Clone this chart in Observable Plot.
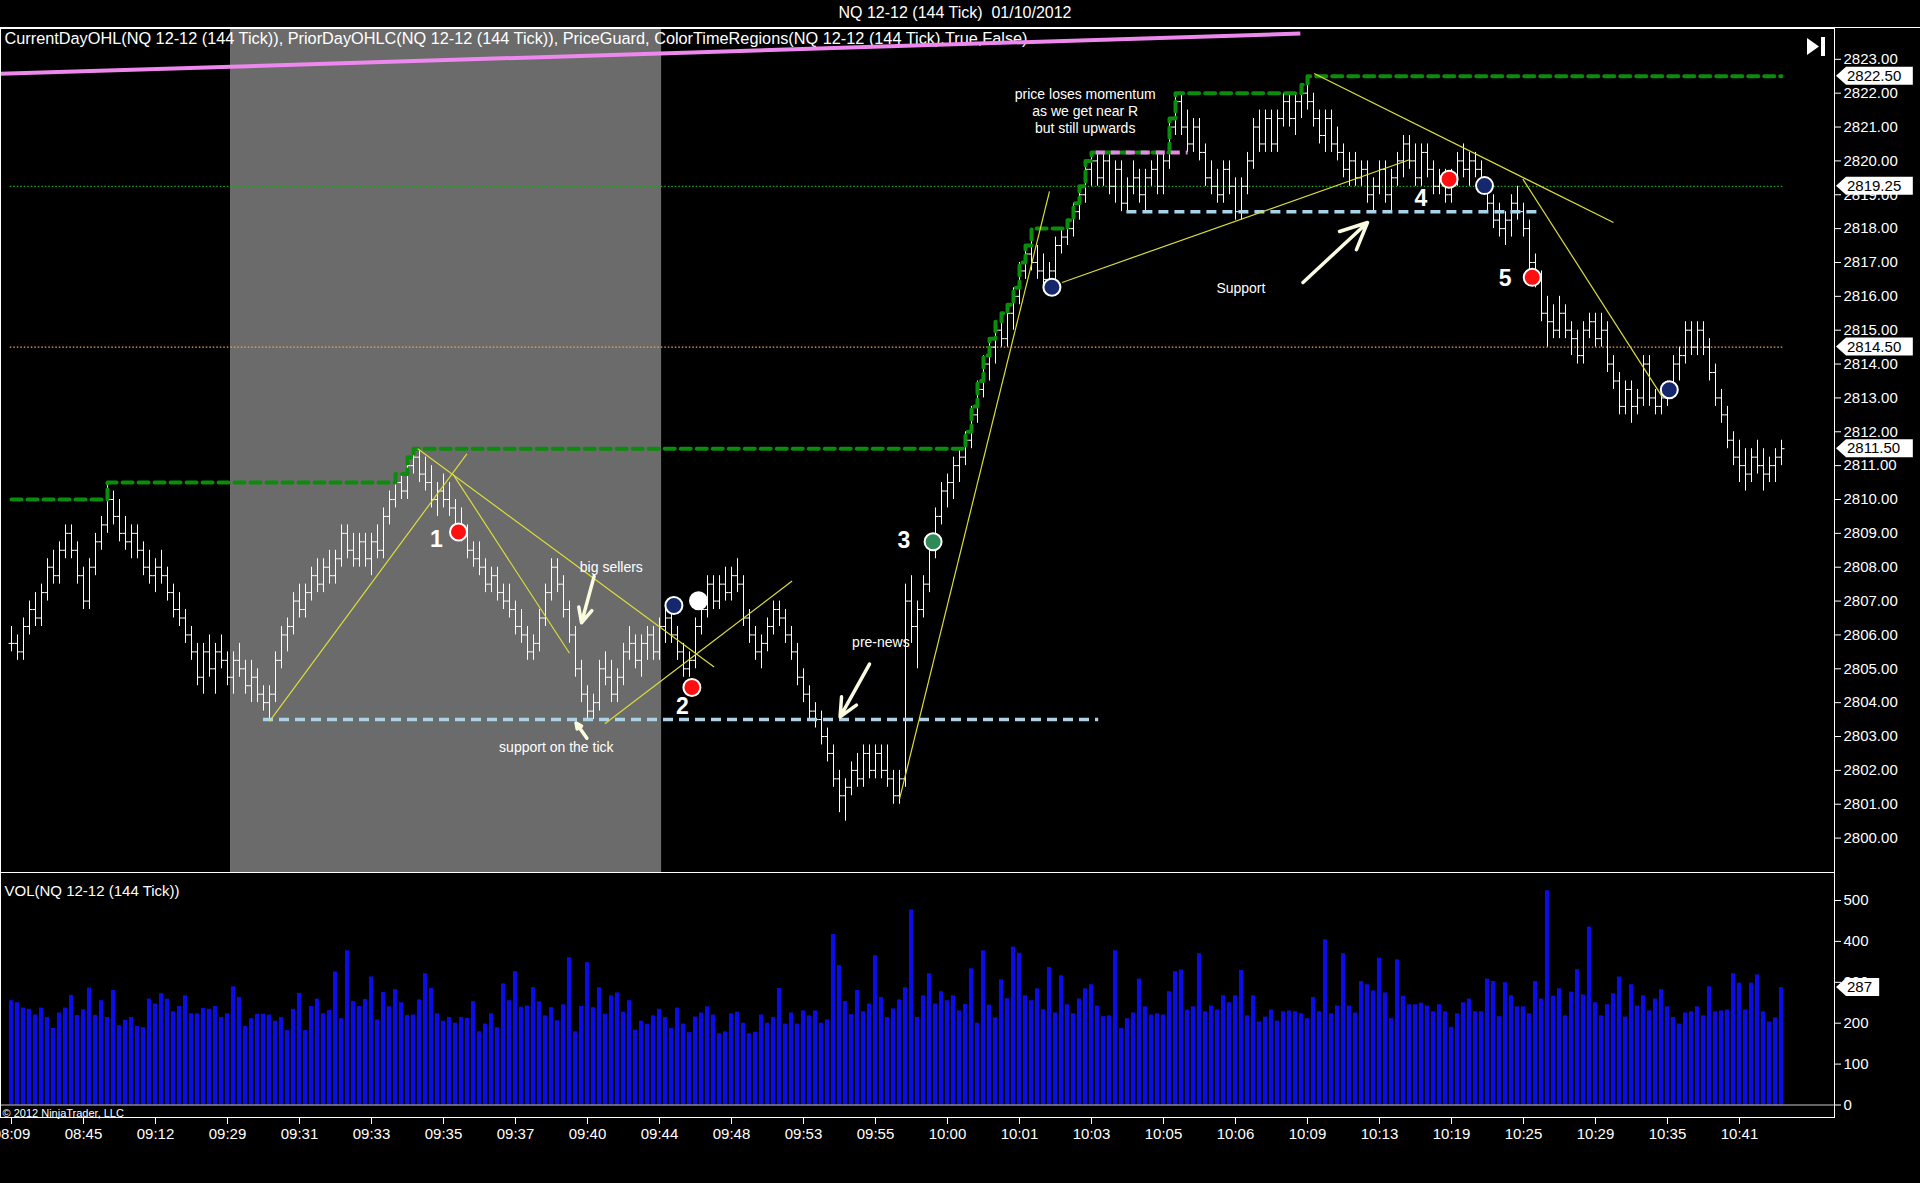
<!DOCTYPE html>
<html><head><meta charset="utf-8">
<script src="https://cdn.jsdelivr.net/npm/d3@7"></script>
<script src="https://cdn.jsdelivr.net/npm/@observablehq/plot@0.6"></script>
<style>
html,body{margin:0;padding:0;background:#000;}
#wrap{position:relative;width:1920px;height:1183px;background:#000;overflow:hidden;font-family:"Liberation Sans",Arial,sans-serif;color:#fff;}
.abs{position:absolute;}
#wrap svg{display:block;}
</style></head><body><div id="wrap"></div>
<script>
// ---------------- DATA (NQ 12-12, 144-tick bars, 01/10/2012) ----------------
const open = [
2805.75,2805.75,2805.50,2806.25,2806.75,2806.50,2807.25,2808.00,2807.75,2808.50,
2809.00,2808.50,2807.75,2807.00,2808.00,2808.75,2809.25,2810.00,2809.50,2809.00,
2808.75,2809.00,2808.50,2808.00,2807.75,2808.00,2807.75,2807.25,2806.75,2806.50,
2806.00,2805.50,2804.75,2805.50,2805.00,2805.50,2805.25,2804.75,2805.25,2805.00,
2804.50,2804.75,2804.25,2804.00,2804.25,2805.25,2806.00,2806.25,2807.00,2806.75,
2807.25,2807.75,2807.50,2808.00,2807.75,2808.25,2809.00,2808.50,2808.25,2808.75,
2808.25,2808.75,2808.50,2809.50,2810.00,2810.50,2810.25,2811.00,2811.25,2810.75,
2810.50,2810.00,2810.25,2810.00,2809.75,2809.25,2809.00,2808.50,2808.25,2808.00,
2807.50,2807.75,2807.25,2807.00,2806.75,2806.25,2806.00,2805.50,2805.75,2806.50,
2807.25,2808.00,2807.50,2806.75,2806.00,2805.00,2804.25,2803.75,2804.00,2805.00,
2804.75,2804.25,2804.75,2805.50,2805.75,2805.25,2805.75,2806.00,2805.50,2806.25,
2806.50,2806.00,2805.50,2805.00,2805.25,2806.25,2806.75,2807.50,2807.00,2807.50,
2807.25,2807.75,2807.50,2806.50,2806.00,2805.50,2805.75,2806.25,2806.75,2806.50,
2806.00,2805.50,2804.75,2804.25,2803.75,2803.50,2803.00,2802.50,2801.75,2801.25,
2801.50,2802.00,2801.75,2802.50,2802.00,2802.50,2802.00,2801.75,2801.25,2801.75,
2807.00,2806.25,2806.75,2807.50,2808.50,2809.50,2810.25,2810.50,2811.00,2811.25,
2811.75,2812.50,2813.25,2814.00,2814.50,2815.00,2814.75,2815.50,2816.00,2816.75,
2817.25,2817.00,2816.75,2816.50,2816.75,2817.50,2817.75,2818.00,2818.50,2819.00,
2819.75,2820.00,2819.50,2820.00,2819.25,2819.75,2818.75,2819.25,2819.50,2819.00,
2819.50,2819.75,2819.25,2820.00,2821.00,2821.75,2821.00,2820.50,2821.00,2820.25,
2819.50,2819.25,2819.00,2819.75,2819.25,2818.50,2819.25,2820.00,2821.00,2820.50,
2821.25,2820.50,2821.25,2821.75,2821.25,2821.75,2822.00,2821.75,2821.25,2820.75,
2821.25,2820.50,2820.25,2819.75,2820.00,2819.50,2819.75,2819.00,2819.25,2819.75,
2819.00,2819.50,2820.00,2820.50,2820.00,2819.50,2820.25,2819.75,2819.25,2819.50,
2819.00,2819.50,2820.00,2819.75,2820.00,2819.75,2819.25,2818.75,2818.25,2818.00,
2818.25,2818.75,2818.50,2818.00,2817.00,2816.50,2815.50,2815.25,2815.00,2815.50,
2815.00,2814.75,2814.25,2815.00,2815.25,2814.75,2815.00,2814.00,2813.50,2812.75,
2813.25,2812.75,2813.00,2814.00,2813.00,2812.75,2813.00,2813.25,2814.00,2814.25,
2815.00,2814.50,2815.00,2814.50,2813.75,2813.00,2812.50,2811.75,2811.25,2811.00,
2810.75,2811.25,2811.00,2810.75,2811.00,2811.25];
const high = [
2806.25,2806.00,2806.50,2807.00,2807.25,2807.50,2808.25,2808.50,2808.75,2809.25,
2809.25,2808.75,2808.00,2808.25,2809.00,2809.50,2810.50,2810.25,2810.00,2809.50,
2809.25,2809.25,2808.75,2808.50,2808.25,2808.50,2808.00,2807.50,2807.25,2806.75,
2806.25,2805.75,2805.75,2806.00,2805.75,2806.00,2805.50,2805.50,2805.75,2805.25,
2805.25,2805.00,2804.50,2804.50,2805.50,2806.25,2806.50,2807.25,2807.50,2807.50,
2808.00,2808.25,2808.25,2808.50,2808.50,2809.25,2809.25,2809.00,2809.00,2809.00,
2809.00,2809.25,2809.75,2810.25,2810.75,2810.75,2811.25,2811.50,2811.50,2811.25,
2811.00,2810.50,2810.75,2810.50,2810.00,2809.75,2809.25,2808.75,2808.75,2808.25,
2808.00,2808.00,2807.50,2807.50,2807.00,2806.75,2806.25,2806.00,2806.75,2807.50,
2808.25,2808.25,2807.75,2807.00,2806.25,2805.25,2804.50,2804.25,2805.25,2805.50,
2805.25,2805.00,2805.75,2806.25,2806.00,2806.00,2806.25,2806.25,2806.50,2806.75,
2806.75,2806.25,2805.75,2805.50,2806.50,2807.00,2807.75,2807.75,2807.75,2808.00,
2808.00,2808.25,2807.75,2806.75,2806.25,2806.00,2806.50,2807.00,2807.00,2806.75,
2806.25,2805.75,2805.00,2804.50,2804.00,2803.75,2803.25,2802.75,2802.00,2801.75,
2802.25,2802.50,2802.75,2802.75,2802.75,2802.75,2802.75,2802.00,2802.00,2807.50,
2807.75,2807.00,2807.75,2808.75,2809.75,2810.50,2810.75,2811.25,2811.50,2812.00,
2812.75,2813.50,2814.25,2814.75,2815.25,2815.50,2815.75,2816.25,2817.00,2817.50,
2818.00,2817.50,2817.25,2817.00,2817.75,2818.00,2818.25,2818.75,2819.25,2820.00,
2820.25,2820.25,2820.25,2820.25,2820.00,2820.00,2819.50,2820.00,2819.75,2819.75,
2820.00,2820.25,2820.25,2821.25,2822.00,2822.00,2821.50,2821.25,2821.25,2820.50,
2820.00,2819.75,2820.00,2820.00,2819.50,2819.50,2820.25,2821.25,2821.50,2821.50,
2821.50,2821.50,2822.00,2822.00,2822.00,2822.25,2822.50,2822.00,2821.50,2821.50,
2821.50,2821.00,2820.50,2820.25,2820.25,2820.00,2820.00,2819.50,2820.00,2820.00,
2819.75,2820.25,2820.75,2820.75,2820.50,2820.50,2820.50,2820.00,2819.75,2819.75,
2819.75,2820.25,2820.50,2820.25,2820.25,2820.00,2819.50,2819.00,2818.75,2818.50,
2819.00,2819.25,2818.75,2818.25,2817.25,2816.75,2816.00,2815.75,2816.00,2815.75,
2815.25,2815.00,2815.25,2815.50,2815.50,2815.50,2815.25,2814.25,2813.75,2813.50,
2813.50,2813.25,2814.25,2814.25,2813.25,2813.25,2813.50,2814.25,2814.50,2815.25,
2815.25,2815.25,2815.25,2814.75,2814.00,2813.25,2812.75,2812.00,2811.75,2811.50,
2811.50,2811.75,2811.50,2811.25,2811.50,2811.75];
const low = [
2805.50,2805.25,2805.25,2806.00,2806.25,2806.25,2807.00,2807.50,2807.50,2808.25,
2808.25,2807.50,2806.75,2806.75,2807.75,2808.50,2809.00,2809.25,2808.75,2808.50,
2808.25,2808.25,2807.75,2807.50,2807.25,2807.50,2807.00,2806.50,2806.25,2805.75,
2805.25,2804.50,2804.25,2804.75,2804.25,2805.00,2804.50,2804.25,2804.75,2804.25,
2804.00,2804.00,2803.75,2803.50,2804.00,2805.00,2805.50,2806.00,2806.50,2806.50,
2807.00,2807.25,2807.25,2807.50,2807.50,2808.00,2808.25,2808.00,2808.00,2808.00,
2807.75,2808.25,2808.25,2809.25,2809.75,2810.00,2810.00,2810.75,2810.50,2810.25,
2809.75,2809.50,2809.75,2809.50,2809.00,2808.75,2808.25,2808.00,2807.75,2807.25,
2807.25,2807.00,2806.75,2806.50,2806.00,2805.75,2805.25,2805.25,2805.50,2806.25,
2807.00,2807.25,2806.50,2805.75,2804.75,2804.00,2803.50,2803.50,2803.75,2804.50,
2804.00,2804.00,2804.50,2805.25,2805.00,2804.75,2805.25,2805.25,2805.25,2805.75,
2805.75,2805.25,2804.75,2804.75,2805.00,2806.00,2806.50,2806.75,2806.75,2807.00,
2807.00,2807.25,2806.25,2805.75,2805.25,2805.00,2805.50,2806.00,2806.25,2805.75,
2805.25,2804.50,2804.00,2803.50,2803.25,2802.75,2802.25,2801.50,2800.75,2800.50,
2801.25,2801.50,2801.50,2801.75,2801.75,2801.75,2801.50,2801.00,2801.00,2801.50,
2805.75,2805.00,2806.50,2807.25,2808.25,2809.25,2809.75,2810.00,2810.50,2811.00,
2811.50,2812.25,2813.00,2813.50,2814.00,2814.50,2814.50,2815.00,2815.75,2816.50,
2816.75,2816.50,2816.25,2816.25,2816.50,2817.25,2817.50,2817.75,2818.25,2818.75,
2819.25,2819.25,2819.25,2819.00,2818.75,2818.50,2818.50,2819.00,2818.75,2818.50,
2819.25,2819.00,2819.00,2819.75,2820.75,2820.75,2820.25,2820.25,2820.00,2819.25,
2819.00,2818.75,2818.75,2819.00,2818.25,2818.25,2819.00,2819.75,2820.25,2820.25,
2820.25,2820.25,2821.00,2821.00,2820.75,2821.25,2821.50,2821.00,2820.50,2820.25,
2820.25,2820.00,2819.50,2819.25,2819.25,2819.25,2818.75,2818.50,2819.00,2818.75,
2818.50,2819.25,2819.50,2819.75,2819.25,2819.25,2819.50,2819.00,2819.00,2818.75,
2818.75,2819.25,2819.50,2819.25,2819.50,2819.00,2818.50,2818.00,2817.75,2817.50,
2817.75,2818.25,2817.75,2816.75,2816.25,2815.25,2814.50,2814.75,2814.75,2814.75,
2814.25,2814.00,2814.00,2814.75,2814.50,2814.50,2813.75,2813.25,2812.50,2812.50,
2812.25,2812.50,2812.75,2812.75,2812.50,2812.50,2812.75,2813.00,2813.50,2814.00,
2814.25,2814.25,2814.25,2813.50,2812.75,2812.25,2811.50,2811.00,2810.50,2810.25,
2810.50,2810.75,2810.25,2810.50,2810.50,2811.00];
const close = [
2805.75,2805.50,2806.25,2806.75,2806.50,2807.25,2808.00,2807.75,2808.50,2809.00,
2808.50,2807.75,2807.00,2808.00,2808.75,2809.25,2810.00,2809.50,2809.00,2808.75,
2809.00,2808.50,2808.00,2807.75,2808.00,2807.75,2807.25,2806.75,2806.50,2806.00,
2805.50,2804.75,2805.50,2805.00,2805.50,2805.25,2804.75,2805.25,2805.00,2804.50,
2804.75,2804.25,2804.00,2804.25,2805.25,2806.00,2806.25,2807.00,2806.75,2807.25,
2807.75,2807.50,2808.00,2807.75,2808.25,2809.00,2808.50,2808.25,2808.75,2808.25,
2808.75,2808.50,2809.50,2810.00,2810.50,2810.25,2811.00,2811.25,2810.75,2810.50,
2810.00,2810.25,2810.00,2809.75,2809.25,2809.00,2808.50,2808.25,2808.00,2807.50,
2807.75,2807.25,2807.00,2806.75,2806.25,2806.00,2805.50,2805.75,2806.50,2807.25,
2808.00,2807.50,2806.75,2806.00,2805.00,2804.25,2803.75,2804.00,2805.00,2804.75,
2804.25,2804.75,2805.50,2805.75,2805.25,2805.75,2806.00,2805.50,2806.25,2806.50,
2806.00,2805.50,2805.00,2805.25,2806.25,2806.75,2807.50,2807.00,2807.50,2807.25,
2807.75,2807.50,2806.50,2806.00,2805.50,2805.75,2806.25,2806.75,2806.50,2806.00,
2805.50,2804.75,2804.25,2803.75,2803.50,2803.00,2802.50,2801.75,2801.25,2801.50,
2802.00,2801.75,2802.50,2802.00,2802.50,2802.00,2801.75,2801.25,2801.75,2807.00,
2806.25,2806.75,2807.50,2808.50,2809.50,2810.25,2810.50,2811.00,2811.25,2811.75,
2812.50,2813.25,2814.00,2814.50,2815.00,2814.75,2815.50,2816.00,2816.75,2817.25,
2817.00,2816.75,2816.50,2816.75,2817.50,2817.75,2818.00,2818.50,2819.00,2819.75,
2820.00,2819.50,2820.00,2819.25,2819.75,2818.75,2819.25,2819.50,2819.00,2819.50,
2819.75,2819.25,2820.00,2821.00,2821.75,2821.00,2820.50,2821.00,2820.25,2819.50,
2819.25,2819.00,2819.75,2819.25,2818.50,2819.25,2820.00,2821.00,2820.50,2821.25,
2820.50,2821.25,2821.75,2821.25,2821.75,2822.00,2821.75,2821.25,2820.75,2821.25,
2820.50,2820.25,2819.75,2820.00,2819.50,2819.75,2819.00,2819.25,2819.75,2819.00,
2819.50,2820.00,2820.50,2820.00,2819.50,2820.25,2819.75,2819.25,2819.50,2819.00,
2819.50,2820.00,2819.75,2820.00,2819.75,2819.25,2818.75,2818.25,2818.00,2818.25,
2818.75,2818.50,2818.00,2817.00,2816.50,2815.50,2815.25,2815.00,2815.50,2815.00,
2814.75,2814.25,2815.00,2815.25,2814.75,2815.00,2814.00,2813.50,2812.75,2813.25,
2812.75,2813.00,2814.00,2813.00,2812.75,2813.00,2813.25,2814.00,2814.25,2815.00,
2814.50,2815.00,2814.50,2813.75,2813.00,2812.50,2811.75,2811.25,2811.00,2810.75,
2811.25,2811.00,2810.75,2811.00,2811.25,2811.50];
const volume = [
255,250,237,234,220,237,214,187,225,237,268,219,233,286,219,255,214,280,194,207,
214,192,189,259,247,272,259,228,241,267,223,223,236,234,241,214,223,289,263,192,
211,222,222,220,205,214,182,234,273,182,241,259,223,231,325,211,377,253,241,258,
313,208,275,240,282,250,219,220,257,321,285,223,205,214,200,214,212,253,179,
198,223,189,296,255,326,239,242,287,252,218,238,206,245,360,179,241,348,238,287,
222,267,274,227,255,183,205,197,218,234,214,187,237,198,177,215,225,240,220,174,
179,223,227,200,174,178,220,200,214,285,198,225,198,230,218,230,200,208,417,341,
253,221,280,228,247,365,263,214,235,257,287,477,214,267,321,247,277,255,
267,230,246,333,200,377,244,213,306,260,386,371,267,255,284,233,336,225,316,245,
223,259,284,294,242,216,218,377,187,211,225,308,240,220,223,220,277,326,330,232,
240,370,228,242,232,267,250,267,329,218,267,203,215,232,205,228,230,228,223,211,
263,228,404,223,242,370,242,225,302,294,279,359,274,211,355,266,245,
245,249,242,228,245,228,190,223,250,259,228,228,308,302,216,299,267,240,240,223,
302,259,524,266,284,218,276,331,269,435,250,218,245,272,313,215,294,242,267,230,
259,282,240,214,198,225,228,240,218,289,228,230,232,321,298,232,298,318,228,203,
213,287];
const timeLabels = ["08:09","08:45","09:12","09:29","09:31","09:33","09:35","09:37","09:40","09:44","09:48","09:53","09:55","10:00","10:01","10:03","10:05","10:06","10:09","10:13","10:19","10:25","10:29","10:35","10:41"];
const barsPerTimeLabel = 12;
const priceTicks = d3.range(2800, 2824);
const volumeTicks = [0, 100, 200, 300, 400, 500];
const sessionHighStart = 2810.00;            // CurrentDayOHL high carried in
const priceFlags = [2822.50, 2819.25, 2814.50, 2811.50];
const volumeFlags = [287];
// annotation data (bar index, price)
const shadeRegions = [{from: 36.5, to: 108.35}];
const levelLines = [{price: 2819.25, color: "#17a817", from: -0.2, to: 295.5}, {price: 2814.50, color: "#f2a55a", from: -0.2, to: 295.5}];
const supportLines = [{price: 2803.50, from: 42.0, to: 181.2}, {price: 2818.50, from: 185.9, to: 254.9}];
const resistanceDash = [{price: 2820.25, from: 180.8, to: 196.1}];
const priceGuard = [{i1: -1.85, p1: 2822.57, i2: 214.8, p2: 2823.76}];
const trendLines = [
  {i1: 43.0, p1: 2803.45, i2: 75.9, p2: 2811.35},
  {i1: 73.6, p1: 2810.74, i2: 93.0, p2: 2805.46},
  {i1: 67.7, p1: 2811.50, i2: 117.1, p2: 2805.05},
  {i1: 98.9, p1: 2803.38, i2: 130.1, p2: 2807.59},
  {i1: 148.0, p1: 2801.15, i2: 173.0, p2: 2819.10},
  {i1: 175.1, p1: 2816.41, i2: 233.1, p2: 2820.04},
  {i1: 217.1, p1: 2822.58, i2: 267.0, p2: 2818.18},
  {i1: 251.9, p1: 2819.46, i2: 275.1, p2: 2813.04}];
const arrows = [
  {i1: 97.1, p1: 2807.73, i2: 95.0, p2: 2806.36},
  {i1: 95.9, p1: 2802.95, i2: 94.1, p2: 2803.40},
  {i1: 143.0, p1: 2805.14, i2: 138.1, p2: 2803.58},
  {i1: 215.25, p1: 2816.41, i2: 226.0, p2: 2818.18}];
const signals = [
  {i: 74.5, p: 2809.04, color: "#ff1010"},
  {i: 110.4, p: 2806.87, color: "#15286c"},
  {i: 114.5, p: 2807.01, color: "#ffffff"},
  {i: 113.4, p: 2804.45, color: "#ff1010"},
  {i: 153.6, p: 2808.75, color: "#2e8b57"},
  {i: 173.4, p: 2816.27, color: "#15286c"},
  {i: 239.6, p: 2819.46, color: "#ff1010"},
  {i: 245.5, p: 2819.27, color: "#15286c"},
  {i: 253.45, p: 2816.56, color: "#ff1010"},
  {i: 276.3, p: 2813.24, color: "#15286c"}];
const tradeNumbers = [
  {i: 70.8, p: 2808.82, label: "1"}, {i: 111.8, p: 2803.87, label: "2"},
  {i: 148.75, p: 2808.79, label: "3"}, {i: 234.9, p: 2818.88, label: "4"},
  {i: 248.95, p: 2816.53, label: "5"}];
const notes = [
  {i: 99.97, p: 2808.03, label: "big sellers"},
  {i: 90.8, p: 2802.71, label: "support on the tick"},
  {i: 144.9, p: 2805.79, label: "pre-news"},
  {i: 178.95, p: 2821.48, label: "price loses momentum\nas we get near R\nbut still upwards"},
  {i: 204.9, p: 2816.27, label: "Support"}];
const titleText = "NQ 12-12 (144 Tick)  01/10/2012";
const indicatorText = "CurrentDayOHL(NQ 12-12 (144 Tick)), PriorDayOHLC(NQ 12-12 (144 Tick)), PriceGuard, ColorTimeRegions(NQ 12-12 (144 Tick),True,False)";
const volumeTitle = "VOL(NQ 12-12 (144 Tick))";

// ---------------- LAYOUT ----------------
const W = 1920, AXIS_X = 1834, PX_PER_BAR = 6, FIRST_BAR_X = 11;
const xDomain = [-FIRST_BAR_X / PX_PER_BAR, (AXIS_X - FIRST_BAR_X) / PX_PER_BAR];
const priceTop = 28, priceH = 844;
const priceDomain = [2798.984, 2823.91];
const volTop = 872, volH = 311, volMarginBottom = 66;
const volDomain = [-30.56, 568.46];
const FONT = "Liberation Sans, Arial, sans-serif";

const bars = d3.range(close.length).map(i => ({i, o: open[i], h: high[i], l: low[i], c: close[i], v: volume[i]}));
const sessionHigh = [];
{ let m = sessionHighStart; for (const b of bars) { m = Math.max(m, b.h); sessionHigh.push({i: b.i, p: m}); } }

const wrap = document.getElementById("wrap");
function addDiv(css, text) { const d = document.createElement("div"); d.className = "abs"; d.style.cssText = css; if (text) d.textContent = text; wrap.appendChild(d); return d; }

addDiv(`left:0;top:4px;width:1910px;text-align:center;font-size:16px;line-height:18px;white-space:pre;`, titleText);
addDiv(`left:0;top:27px;width:1920px;height:1px;background:#fff;`);

const pricePlot = Plot.plot({
  width: W, height: priceH, marginTop: 0, marginBottom: 0, marginLeft: 0, marginRight: W - AXIS_X,
  style: {background: "transparent", color: "#fff", fontFamily: FONT, fontSize: "15px", overflow: "visible"},
  x: {domain: xDomain, axis: null},
  y: {domain: priceDomain, axis: null},
  marks: [
    Plot.rect(shadeRegions, {x1: "from", x2: "to", fill: "#6b6b6b"}),
    Plot.text([indicatorText], {frameAnchor: "top-left", dx: 4, dy: 4, text: d => d, fill: "#fff", fontSize: 16.3, textAnchor: "start"}),
    Plot.link(priceGuard, {x1: "i1", y1: "p1", x2: "i2", y2: "p2", stroke: "#ee88ee", strokeWidth: 4}),
    Plot.ruleY(levelLines, {y: "price", x1: "from", x2: "to", stroke: "color", strokeWidth: 1.3, strokeDasharray: "1.5,2"}),
    Plot.ruleX(bars, {x: "i", y1: "l", y2: "h", stroke: "#fff", strokeWidth: 1}),
    Plot.link(bars, {x1: d => d.i - 0.5, x2: "i", y1: "o", y2: "o", stroke: "#fff", strokeWidth: 1}),
    Plot.link(bars, {x1: "i", x2: d => d.i + 0.5, y1: "c", y2: "c", stroke: "#fff", strokeWidth: 1}),
    Plot.line(sessionHigh, {x: "i", y: "p", curve: "step-after", stroke: "#0c8c0c", strokeWidth: 4, strokeDasharray: "10,6"}),
    Plot.ruleY(supportLines, {y: "price", x1: "from", x2: "to", stroke: "#a8d4e8", strokeWidth: 3.5, strokeDasharray: "10,6"}),
    Plot.ruleY(resistanceDash, {y: "price", x1: "from", x2: "to", stroke: "#e889e8", strokeWidth: 4, strokeDasharray: "9,6"}),
    Plot.link(trendLines, {x1: "i1", y1: "p1", x2: "i2", y2: "p2", stroke: "#dcdc3c", strokeWidth: 1.2}),
    Plot.arrow(arrows, {x1: "i1", y1: "p1", x2: "i2", y2: "p2", stroke: "#fbfbe0", strokeWidth: 3.5, headLength: 13, headAngle: 50}),
    Plot.dot(signals, {x: "i", y: "p", r: 8.5, fill: "color", stroke: "#fff", strokeWidth: 2}),
    Plot.text(tradeNumbers, {x: "i", y: "p", text: "label", fill: "#fff", fontSize: 23, fontWeight: "bold"}),
    Plot.text(notes, {x: "i", y: "p", text: "label", fill: "#fff", fontSize: 14, lineHeight: 1.2}),
    Plot.axisY(priceTicks, {anchor: "right", tickSize: 6, tickPadding: 3, tickFormat: d => d.toFixed(2), fontSize: 15, fill: "#fff", stroke: "#fff"}),
    Plot.frame({stroke: "#fff"})
  ]
});
pricePlot.style.position = "absolute"; pricePlot.style.left = "0px"; pricePlot.style.top = priceTop + "px";
wrap.appendChild(pricePlot);

const volPlot = Plot.plot({
  width: W, height: volH, marginTop: 0, marginBottom: volMarginBottom, marginLeft: 0, marginRight: W - AXIS_X,
  style: {background: "transparent", color: "#fff", fontFamily: FONT, fontSize: "15px", overflow: "visible"},
  x: {domain: xDomain},
  y: {domain: volDomain},
  marks: [
    Plot.rect(bars, {x1: d => d.i - 0.34, x2: d => d.i + 0.34, y1: 0, y2: "v", fill: "#0c0ce6"}),
    Plot.ruleY([0], {stroke: "#c8c8c8"}),
    Plot.text([volumeTitle], {frameAnchor: "top-left", dx: 4, dy: 13, text: d => d, fill: "#fff", fontSize: 15, textAnchor: "start"}),
    Plot.text(["© 2012 NinjaTrader, LLC"], {frameAnchor: "bottom-left", dx: 2, dy: -1, text: d => d, fill: "#fff", fontSize: 11, textAnchor: "start"}),
    Plot.axisY(volumeTicks, {anchor: "right", tickSize: 6, tickPadding: 3, fontSize: 15, fill: "#fff", stroke: "#fff", label: null}),
    Plot.axisX(d3.range(timeLabels.length).map(k => k * barsPerTimeLabel), {anchor: "bottom", tickSize: 7, tickPadding: 4, tickFormat: d => timeLabels[d / barsPerTimeLabel], fontSize: 15, fill: "#fff", stroke: "#fff", label: null}),
    Plot.frame({stroke: "#fff"})
  ]
});
volPlot.style.position = "absolute"; volPlot.style.left = "0px"; volPlot.style.top = volTop + "px";
wrap.appendChild(volPlot);

function addFlags(plot, values, fmt) {
  const sy = plot.scale("y");
  const g = d3.select(plot).append("g").attr("text-anchor", "start");
  for (const v of values) {
    const y = sy.apply(v);
    const label = fmt(v);
    const w = label.length * 8.4 + 8;
    g.append("path").attr("d", `M${AXIS_X + 2},${y} l10,-9 h${w} v18 h${-w} z`).attr("fill", "#fff");
    g.append("text").attr("x", AXIS_X + 13).attr("y", y).attr("dy", "0.35em")
      .attr("text-anchor", "start").attr("fill", "#000").attr("font-size", 15).text(label);
  }
}
addFlags(pricePlot, priceFlags, v => v.toFixed(2));
addFlags(volPlot, volumeFlags, v => String(v));

// "go to last bar" button glyph
const btn = document.createElementNS("http://www.w3.org/2000/svg", "svg");
btn.setAttribute("width", 24); btn.setAttribute("height", 22);
btn.style.cssText = "position:absolute;left:1805px;top:36px;";
btn.innerHTML = '<path d="M2,2 L2,19 L14,10.5 Z" fill="#fff"/><rect x="16" y="1" width="4" height="19" fill="#fff"/>';
wrap.appendChild(btn);
</script></body></html>
